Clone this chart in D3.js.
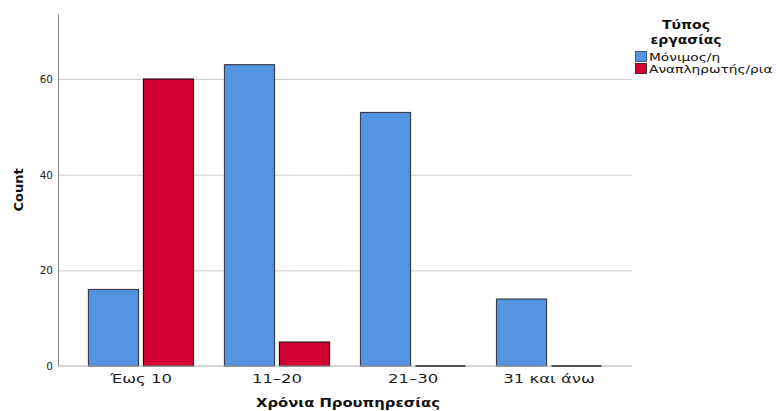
<!DOCTYPE html>
<html>
<head>
<meta charset="utf-8">
<script src="https://cdn.jsdelivr.net/npm/d3@7"></script>
<style>
  body { margin: 0; background: #fff; }
  text { font-family: "DejaVu Sans", sans-serif; }
</style>
</head>
<body>
<div id="chart"></div>
<script>
const categories = ['Έως 10', '11–20', '21–30', '31 και άνω'];
const seriesNames = ['Μόνιμος/η', 'Αναπληρωτής/ρια'];
const permanent = [16, 63, 53, 14];
const substitute = [60, 5, 0, 0];
const yTicks = [0, 20, 40, 60];
const colors = ['#5593e3', '#d50032'];
const strokes = ['#38414d', '#2a0a10'];

const width = 776, height = 411;
const margin = {top: 14, right: 144, bottom: 45, left: 58};
const w = width - margin.left - margin.right,
  h = height - margin.top - margin.bottom;

const svg = d3.select('#chart').append('svg')
  .attr('width', width)
  .attr('height', height);

const x = d3.scaleBand().domain(categories).range([0, w]).paddingInner(0.228).paddingOuter(0.224);
const xs = d3.scaleBand().domain(seriesNames).range([0, x.bandwidth()]).paddingInner(0.09);
const y = d3.scaleLinear().domain([0, 73.6]).range([h, 0]);

const g = svg.append('g')
  .attr('transform', 'translate(' + margin.left + ',' + margin.top + ')');

// gridlines
g.selectAll('.grid')
  .data(yTicks.filter(d => d > 0))
  .enter().append('line')
  .attr('x1', 0).attr('x2', w)
  .attr('y1', d => y(d) + 0.5).attr('y2', d => y(d) + 0.5)
  .attr('stroke', '#cfcfcf').attr('stroke-width', 1);

const data = [];
categories.forEach((c, i) => {
  data.push({cat: c, s: 0, v: permanent[i]});
  data.push({cat: c, s: 1, v: substitute[i]});
});

// bars with a value
g.selectAll('.bar')
  .data(data.filter(d => d.v > 0))
  .enter().append('rect')
  .attr('x', d => x(d.cat) + xs(seriesNames[d.s]))
  .attr('y', d => y(d.v))
  .attr('width', xs.bandwidth())
  .attr('height', d => h - y(d.v))
  .attr('fill', d => colors[d.s])
  .attr('stroke', d => strokes[d.s])
  .attr('stroke-width', 1.2);

// empty bars show as a black line on the baseline
g.selectAll('.zero')
  .data(data.filter(d => d.v === 0))
  .enter().append('line')
  .attr('x1', d => x(d.cat) + xs(seriesNames[d.s]))
  .attr('x2', d => x(d.cat) + xs(seriesNames[d.s]) + xs.bandwidth())
  .attr('y1', d => y(d.v)).attr('y2', d => y(d.v))
  .attr('stroke', '#000').attr('stroke-width', 2);

// axes
const yAxis = g.append('g')
  .call(d3.axisLeft(y).tickValues(yTicks).tickSize(0).tickPadding(5));
yAxis.select('.domain').attr('stroke', '#888');
yAxis.selectAll('text').attr('font-size', 10.5).attr('fill', '#222');

const xAxis = g.append('g')
  .attr('transform', 'translate(0,' + h + ')')
  .call(d3.axisBottom(x).tickSize(0).tickPadding(8));
xAxis.select('.domain').attr('stroke', '#aaa').attr('d', 'M0,0H' + w);
xAxis.selectAll('text').attr('font-size', 13)
  .attr('transform', 'scale(1.27,1)')
  .attr('fill', '#222');

// axis titles
svg.append('text')
  .attr('transform', 'translate(23,190) rotate(-90)')
  .attr('text-anchor', 'middle')
  .attr('font-size', 13).attr('font-weight', 'bold')
  .attr('fill', '#111')
  .text('Count');

svg.append('text')
  .attr('transform', 'translate(' + (margin.left + w / 2 + 3) + ',407) scale(1.14,1)')
  .attr('text-anchor', 'middle')
  .attr('font-size', 13).attr('font-weight', 'bold')
  .attr('fill', '#111')
  .text('Χρόνια Προυπηρεσίας');

// legend
const lg = svg.append('g').attr('transform', 'translate(635,0)');
lg.append('text').attr('transform', 'translate(51,29) scale(1.12,1)')
  .attr('text-anchor', 'middle').attr('font-size', 12.5).attr('font-weight', 'bold')
  .attr('fill', '#111').text('Τύπος');
lg.append('text').attr('transform', 'translate(51,44) scale(1.12,1)')
  .attr('text-anchor', 'middle').attr('font-size', 12.5).attr('font-weight', 'bold')
  .attr('fill', '#111').text('εργασίας');

const items = lg.selectAll('.item')
  .data(seriesNames)
  .enter().append('g')
  .attr('transform', (d, i) => 'translate(0,' + (51 + i * 12) + ')');
items.append('rect')
  .attr('x', 0.5).attr('y', 0.5)
  .attr('width', 11).attr('height', 10)
  .attr('fill', (d, i) => colors[i])
  .attr('stroke', (d, i) => strokes[i]).attr('stroke-width', 0.8);
items.append('text')
  .attr('transform', 'translate(14,9.5) scale(1.25,1)')
  .attr('font-size', 11).attr('fill', '#111')
  .text(d => d);
</script>
</body>
</html>
